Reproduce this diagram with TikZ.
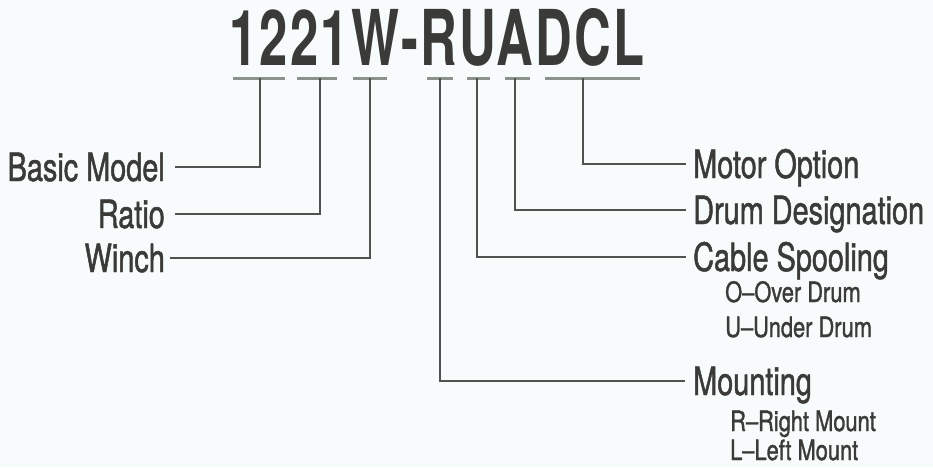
\documentclass[tikz,border=0pt]{standalone}
\usepackage{fontspec}
\setmainfont{TeX Gyre Heros}[FakeStretch=0.74,FakeBold=1.2]
\newfontfamily\codefont{TeX Gyre Heros}[FakeStretch=0.66,LetterSpace=3]
\newfontfamily\optfont{TeX Gyre Heros}[FakeStretch=0.78,FakeBold=1.2]
\usetikzlibrary{calc}
\definecolor{wtext}{RGB}{58,58,56}
\definecolor{wline}{RGB}{80,82,80}
\definecolor{wbar}{RGB}{140,146,142}
\definecolor{wpaper}{RGB}{248,251,251}
\tikzset{
  partlabel/.style={font=\fontsize{39}{40}\selectfont, text=wtext, inner sep=0pt,
                    text height=28pt, text depth=0pt},
  optlabel/.style={font=\optfont\fontsize{28}{30}\selectfont, text=wtext, inner sep=0pt,
                   anchor=base west},
  lead/.style={draw=wline, line width=1.8pt},
  codebar/.style={draw=wbar, line width=3pt},
}
\begin{document}
\begin{tikzpicture}[x=1pt,y=-1pt]
\fill[wpaper] (0,0) rectangle (933,467);
\useasboundingbox (0,0) rectangle (933,467);

% Model code
\node[font=\codefont\bfseries\fontsize{77}{80}\selectfont, text=wtext, anchor=base,
      inner sep=0pt] (code) at (437,65) {1221W-RUADCL};

% Bars under the code groups
\foreach \a/\b in {233/285,297/337,353/387,427/453,467/490,505/530,545/640}
  \draw[codebar] (\a,78) -- (\b,78);

% Tick points
\coordinate (tBasic) at (260,78);
\coordinate (tRatio) at (320,78);
\coordinate (tWinch) at (370,78);
\coordinate (tMount) at (440,78);
\coordinate (tCable) at (477,78);
\coordinate (tDrum) at (515,78);
\coordinate (tMotor) at (583,78);

% Left labels
\node[partlabel, anchor=east] (basic) at (165,167) {Basic Model};
\node[partlabel, anchor=east] (ratio) at (165,214) {Ratio};
\node[partlabel, anchor=east] (winch) at (165,258) {Winch};
\draw[lead] (tBasic) |- ([xshift=10pt]basic.east);
\draw[lead] (tRatio) |- ([xshift=10pt]ratio.east);
\draw[lead] (tWinch) |- ([xshift=5pt]winch.east);

% Right labels
\node[partlabel, anchor=west] (motor) at (693,164) {Motor Option};
\node[partlabel, anchor=west] (drum) at (693,210) {Drum Designation};
\node[partlabel, anchor=west] (cable) at (693,257) {Cable Spooling};
\node[partlabel, anchor=west] (mount) at (693,381) {Mounting};
\draw[lead] (tMotor) |- ([xshift=-7pt]motor.west);
\draw[lead] (tDrum) |- ([xshift=-7pt]drum.west);
\draw[lead] (tCable) |- ([xshift=-7pt]cable.west);
\draw[lead] (tMount) |- ([xshift=-8pt]mount.west);

% Options
\node[optlabel] (over) at (725,302) {O–Over Drum};
\node[optlabel] (under) at (725,337) {U–Under Drum};
\node[optlabel] (right) at (730,431) {R–Right Mount};
\node[optlabel] (left) at (730,460) {L–Left Mount};

\end{tikzpicture}
\end{document}
